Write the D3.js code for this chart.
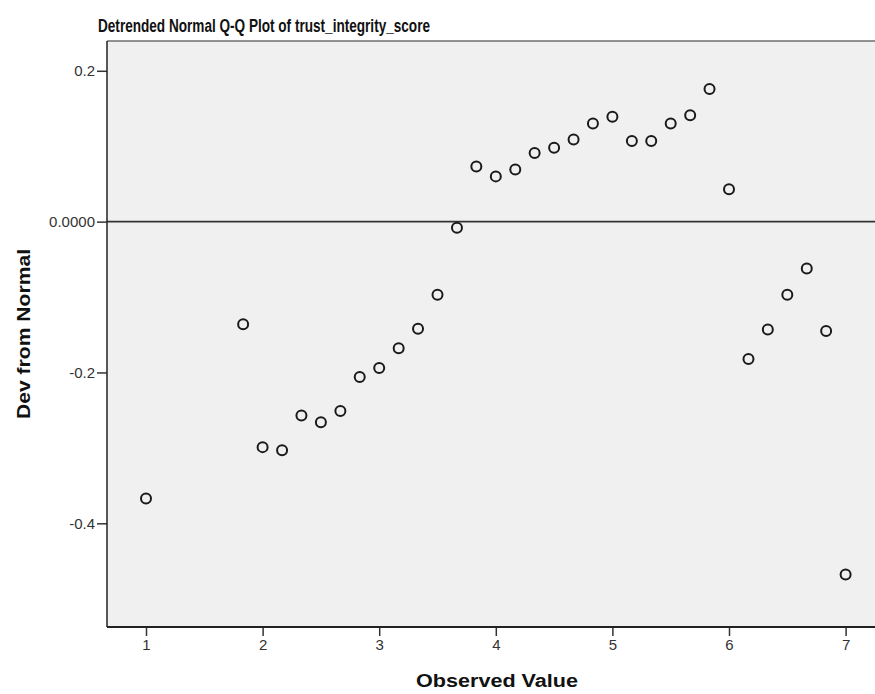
<!DOCTYPE html>
<html>
<head>
<meta charset="utf-8">
<script src="https://cdn.jsdelivr.net/npm/d3@7"></script>
<style>
  body { margin: 0; background: #fff; }
  svg text { font-family: "Liberation Sans", Arial, sans-serif; }
</style>
</head>
<body>
<div id="chart"></div>
<script>
// datos
const observed = [1, 1.833, 2, 2.167, 2.333, 2.5, 2.667, 2.833, 3, 3.167, 3.333, 3.5, 3.667,
  3.833, 4, 4.167, 4.333, 4.5, 4.667, 4.833, 5, 5.167, 5.333, 5.5, 5.667, 5.833,
  6, 6.167, 6.333, 6.5, 6.667, 6.833, 7]
const devFromNormal = [-0.367, -0.136, -0.299, -0.303, -0.257, -0.266, -0.251, -0.206, -0.194, -0.168, -0.142, -0.097, -0.008,
  0.073, 0.060, 0.069, 0.091, 0.098, 0.109, 0.130, 0.139, 0.107, 0.107, 0.130, 0.141, 0.176,
  0.043, -0.182, -0.143, -0.097, -0.062, -0.145, -0.468]
const xTicks = [1, 2, 3, 4, 5, 6, 7]
const yTicks = [0.2, 0, -0.2, -0.4]
const yTickLabels = ["0.2", "0.0000", "-0.2", "-0.4"]

const width = 875
const height = 694
const plot = { left: 107, right: 875, top: 41, bottom: 627 }

const data = observed.map((v, i) => ({ x: v, y: devFromNormal[i] }))

const svg = d3.select("#chart").append("svg")
    .attr("width", width).attr("height", height)

const x = d3.scaleLinear().domain([0.6655, 7.2521]).range([plot.left, plot.right])
const y = d3.scaleLinear().domain([-0.5375, 0.2395]).range([plot.bottom, plot.top])

// fondo del area
svg.append("rect")
    .attr("x", plot.left).attr("y", plot.top)
    .attr("width", plot.right - plot.left).attr("height", plot.bottom - plot.top)
    .attr("fill", "#f0f0f0")

// borde superior
svg.append("line")
    .attr("x1", plot.left).attr("x2", plot.right)
    .attr("y1", plot.top).attr("y2", plot.top)
    .attr("stroke", "#6e6e6e").attr("stroke-width", 1.5)

// linea de referencia en cero
svg.append("line")
    .attr("x1", plot.left).attr("x2", plot.right)
    .attr("y1", y(0)).attr("y2", y(0))
    .attr("stroke", "#333").attr("stroke-width", 1.6)

// ejes
const xAxis = d3.axisBottom(x).tickValues(xTicks).tickSize(9).tickPadding(3).tickFormat(d3.format("d"))
const yAxis = d3.axisLeft(y).tickValues(yTicks).tickSize(10).tickPadding(2)
    .tickFormat((d, i) => yTickLabels[i])

const xAxisGroup = svg.append("g")
    .attr("transform", `translate(0,${plot.bottom})`)
    .call(xAxis)
const yAxisGroup = svg.append("g")
    .attr("transform", `translate(${plot.left},0)`)
    .call(yAxis)

;[xAxisGroup, yAxisGroup].forEach(g => {
    g.attr("font-size", null).attr("font-family", null)
    g.select(".domain").remove()
    g.selectAll(".tick line").attr("stroke", "#333").attr("stroke-width", 1.5)
    g.selectAll(".tick text")
        .attr("fill", "#333")
        .style("font-family", "'Liberation Sans', Arial, sans-serif")
        .style("font-size", "15px")
})

// lineas de los ejes
svg.append("line")
    .attr("x1", plot.left).attr("x2", plot.left)
    .attr("y1", plot.top).attr("y2", plot.bottom)
    .attr("stroke", "#222").attr("stroke-width", 1.5)
svg.append("line")
    .attr("x1", plot.left).attr("x2", plot.right)
    .attr("y1", plot.bottom).attr("y2", plot.bottom)
    .attr("stroke", "#222").attr("stroke-width", 1.8)

// puntos
svg.append("g").selectAll("circle").data(data)
    .join("circle")
    .attr("cx", d => x(d.x))
    .attr("cy", d => y(d.y))
    .attr("r", 5)
    .attr("fill", "none")
    .attr("stroke", "#1a1a1a")
    .attr("stroke-width", 2)

// titulos
svg.append("text")
    .attr("x", 264).attr("y", 32)
    .attr("text-anchor", "middle")
    .attr("textLength", 332).attr("lengthAdjust", "spacingAndGlyphs")
    .style("font-size", "19px").style("font-weight", "bold")
    .attr("fill", "#111")
    .text("Detrended Normal Q-Q Plot of trust_integrity_score")

svg.append("text")
    .attr("x", 497).attr("y", 687)
    .attr("text-anchor", "middle")
    .attr("textLength", 162).attr("lengthAdjust", "spacingAndGlyphs")
    .style("font-size", "18px").style("font-weight", "bold")
    .attr("fill", "#111")
    .text("Observed Value")

svg.append("text")
    .attr("transform", "translate(30,334) rotate(-90)")
    .attr("text-anchor", "middle")
    .attr("textLength", 170).attr("lengthAdjust", "spacingAndGlyphs")
    .style("font-size", "18px").style("font-weight", "bold")
    .attr("fill", "#111")
    .text("Dev from Normal")
</script>
</body>
</html>
